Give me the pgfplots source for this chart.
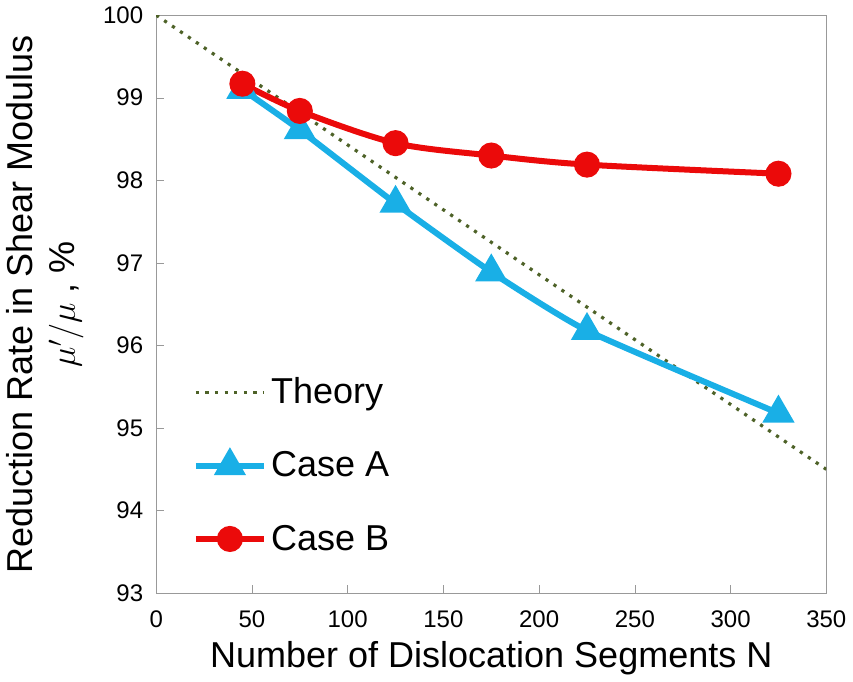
\documentclass[border=0pt]{standalone}
\usepackage{pgfplots}
\pgfplotsset{compat=1.18}
\usepackage{fontspec}
\setmainfont{Liberation Sans}
\definecolor{caseA}{RGB}{25,175,230}
\definecolor{caseB}{RGB}{235,10,10}
\definecolor{theory}{RGB}{78,98,40}
\begin{document}
\begin{tikzpicture}
\begin{axis}[
  scale only axis,
  width=335pt, height=289pt,
  xmin=0, xmax=350, ymin=93, ymax=100,
  xtick={0,50,...,350}, ytick={93,...,100},
  tick pos=left, tick align=inside,
  major tick length=4pt,
  axis line style={gray!80, line width=0.6pt},
  tick style={gray!80},
  /pgf/number format/assume math mode=true,
  ticklabel style={font=\fontsize{12}{14}\selectfont},
  xticklabel style={yshift=-5pt},
  yticklabel style={xshift=-3pt},
  xlabel={Number of Dislocation Segments N},
  ylabel={Reduction Rate in Shear Modulus\\[1pt]$\mu'/\mu$ , \%},
  label style={font=\fontsize{18}{20}\selectfont},
  ylabel style={align=center, yshift=3pt},
  legend style={draw=none, fill=none, at={(0.045,0.055)}, anchor=south west,
    font=\fontsize{18}{20}\selectfont, row sep=18.5pt},
  legend cell align=left,
  legend image code/.code={\draw[mark repeat=2,mark phase=2]
    plot coordinates {(0cm,0cm) (0.6cm,0cm) (1.2cm,0cm)};},
]
\addplot[theory, dash pattern=on 1.6pt off 3.2pt, line width=1.6pt] coordinates {(0,100) (350,94.5)};
\addlegendentry{Theory}
\addplot[caseA, line width=3pt, smooth, tension=0.3, mark=triangle*, mark size=6.3pt,
  mark options={solid}] coordinates {
  (45,99.10) (75,98.61) (125,97.72) (175,96.89) (225,96.18) (325,95.18)};
\addlegendentry{Case A}
\addplot[caseB, line width=3pt, smooth, tension=0.5, mark=*, mark size=5pt] coordinates {
  (45,99.17) (75,98.84) (125,98.45) (175,98.30) (225,98.19) (325,98.08)};
\addlegendentry{Case B}
\end{axis}
\end{tikzpicture}
\end{document}
